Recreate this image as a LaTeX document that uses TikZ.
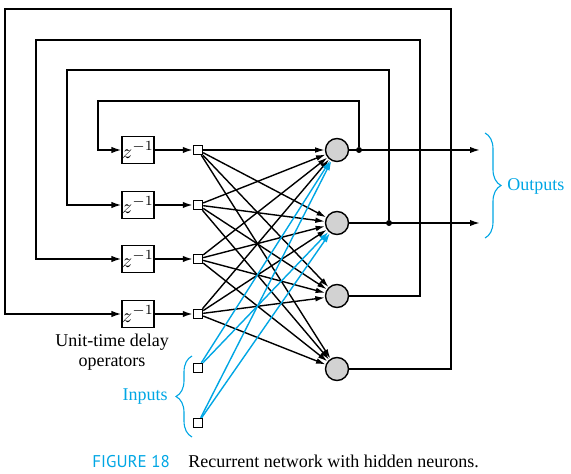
\documentclass[tikz,border=0pt]{standalone}
\usepackage{fontspec}
\setmainfont{Liberation Serif}
\newfontfamily\figfont{PT Sans}
\usetikzlibrary{arrows.meta,positioning,calc,decorations.pathreplacing}
\definecolor{capblue}{RGB}{0,166,228}

\begin{document}
\begin{tikzpicture}[x=0.5pt,y=-0.5pt,
    delay/.style={draw, line width=0.7pt, minimum width=14.5pt, minimum height=13.5pt, inner sep=0pt, font=\fontsize{10}{11}\selectfont},
    unit/.style={draw, line width=0.7pt, fill=white, minimum size=4.5pt, inner sep=0pt},
    neuron/.style={circle, draw, line width=0.7pt, fill=gray!35, minimum size=11.5pt, inner sep=0pt},
    dot/.style={circle, fill, minimum size=3pt, inner sep=0pt},
    feed/.style={line width=0.85pt, -{Latex[length=5pt,width=3.2pt]}},
    syn/.style={line width=0.7pt, -{Latex[length=4.8pt,width=2.8pt]}},
    brc/.style={capblue, line width=0.55pt, decorate, decoration={brace, amplitude=8pt}}]
  \useasboundingbox (0,0) rectangle (571,474);

  % Delay operators
  \node[delay] (D1) at (138,150) {$z^{-1}$};
  \node[delay] (D2) at (138,205) {$z^{-1}$};
  \node[delay] (D3) at (138,259) {$z^{-1}$};
  \node[delay] (D4) at (138,314) {$z^{-1}$};
  % Source units
  \node[unit] (S1) at (198,150) {};
  \node[unit] (S2) at (198,205) {};
  \node[unit] (S3) at (198,259) {};
  \node[unit] (S4) at (198,314) {};
  \node[unit] (I1) at (198,368) {};
  \node[unit] (I2) at (198,423) {};
  % Hidden neurons
  \node[neuron] (N1) at (337,150) {};
  \node[neuron] (N2) at (337,223) {};
  \node[neuron] (N3) at (337,296) {};
  \node[neuron] (N4) at (337,369) {};

  % Forward connections
  \foreach \i in {1,...,4}{
    \draw[feed] (D\i) -- (S\i);
    \foreach \j in {1,...,4}
      \draw[syn] (S\i) -- (N\j);
  }
  \foreach \i in {1,2}
    \foreach \j in {1,2}
      \draw[syn, capblue] (I\i) -- (N\j);

  % Outputs
  \node[dot] (j1) at (359,150) {};
  \node[dot] (j2) at (389,223) {};
  \coordinate (o1) at (480,150);
  \coordinate (o2) at (480,223);
  \draw[feed] (N1) -- (o1);
  \draw[feed] (N2) -- (o2);

  % Feedback loops
  \coordinate (t1) at (5,9);
  \coordinate (t2) at (36,40);
  \coordinate (t3) at (67,70);
  \coordinate (t4) at (98,101);
  \coordinate (r1) at (451,369);
  \coordinate (r2) at (420,296);
  \draw[feed] (j1) |- (t4) |- (D1);
  \draw[feed] (j2) |- (t3) |- (D2);
  \draw[feed] (N3) -- (r2) |- (t2) |- (D3);
  \draw[feed] (N4) -- (r1) |- (t1) |- (D4);

  % Labels
  \node[align=center, font=\fontsize{9}{10}\selectfont] (ops) at (112,352) {Unit-time delay\\operators};
  \coordinate (ob1) at (485,133);
  \coordinate (ob2) at (485,238);
  \draw[brc] (ob1) -- (ob2);
  \node[capblue, anchor=west, inner sep=0pt, font=\fontsize{9}{10}\selectfont] (outs) at (507,186) {Outputs};
  \coordinate (ib1) at (192,437);
  \coordinate (ib2) at (192,356);
  \draw[brc] (ib1) -- (ib2);
  \node[capblue, anchor=east, inner sep=0pt, font=\fontsize{9}{10}\selectfont] (ins) at (168,397) {Inputs};

  % Caption
  \node[capblue, anchor=base west, inner sep=0pt, font=\figfont\fontsize{8.5}{10}\selectfont] (fig) at (92,467) {FIGURE 18};
  \node[anchor=base west, inner sep=0pt, font=\fontsize{9}{10}\selectfont] (cap) at (188,467) {Recurrent network with hidden neurons.};
\end{tikzpicture}
\end{document}
